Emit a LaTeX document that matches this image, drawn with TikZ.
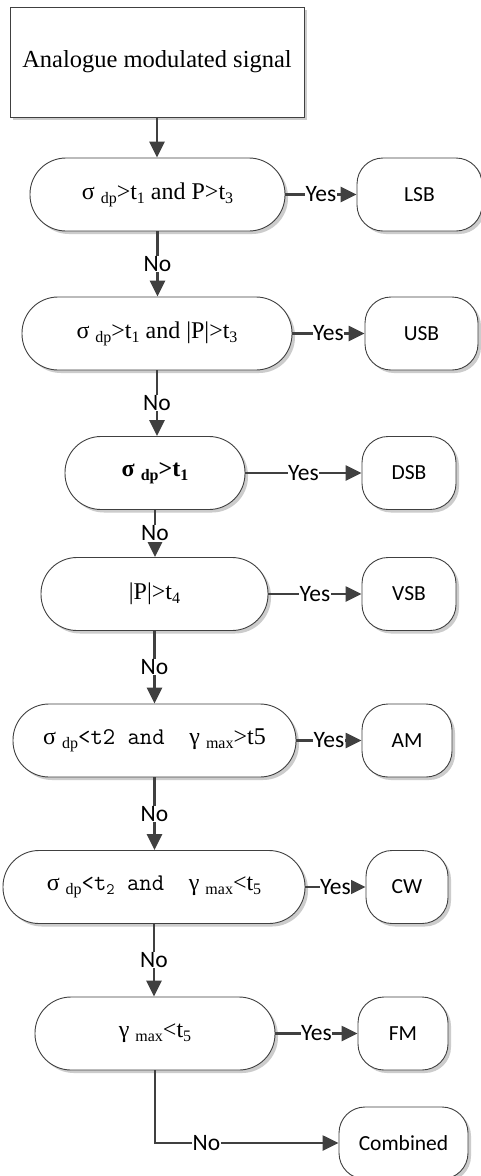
\documentclass[tikz,border=0pt]{standalone}
\usepackage{fontspec}
\setmainfont{Liberation Serif}
\newfontfamily\sansf{Carlito}
\usetikzlibrary{arrows.meta,shadows}
% lowered, smaller text used for indices such as dp, max, 1
\newcommand\lowsub[1]{\raisebox{-4pt}{\fontsize{16}{16}\selectfont #1}}
% light typewriter run inside the mixed conditions
\newcommand\twrun[1]{{\ttfamily\fontsize{24}{28}\selectfont #1}}

\begin{document}
\begin{tikzpicture}[x=1pt,y=-1pt,
  box/.style={draw=black!75, line width=0.9pt, fill=white, inner sep=0pt, align=center,
    drop shadow={shadow xshift=3pt, shadow yshift=-3pt, fill=black!20, opacity=1}},
  startbox/.style={box, font=\fontsize{24.5}{28}\selectfont},
  decide/.style={box, rounded corners=36pt, minimum height=73pt, font=\fontsize{24}{28}\selectfont},
  result/.style={box, rounded corners=26pt, minimum height=73pt, font=\sansf\fontsize{21.5}{25}\selectfont},
  flow/.style={draw=black!75, line width=2.5pt, -{Triangle[length=16pt,width=15pt]}},
  lab/.style={fill=white, inner sep=0.6pt, text=black, font=\sansf\fontsize{23.5}{27}\selectfont}
]
\useasboundingbox (0,0) rectangle (481,1176);
\clip (0,0) rectangle (481,1176);
\fill[white] (0,0) rectangle (481,1176);

% start block
\node[startbox, minimum width=294pt, minimum height=110pt] (start) at (157,62) {Analogue modulated signal};

% decision chain
\node[decide, minimum width=255pt] (d1) at (157.5,194.5)
  {σ \lowsub{dp}>t\lowsub{1} and P>t\lowsub{3}};
\node[decide, minimum width=270pt] (d2) at (157,333.5)
  {σ \lowsub{dp}>t\lowsub{1} and |P|>t\lowsub{3}};
\node[decide, minimum width=180pt, font=\bfseries\fontsize{24}{28}\selectfont] (d3) at (155,473)
  {σ \lowsub{dp}>t\lowsub{1}};
\node[decide, minimum width=227pt] (d4) at (154.5,594)
  {|P|>t\lowsub{4}};
\node[decide, minimum width=283pt] (d5) at (154.5,740.5)
  {σ \lowsub{dp}\twrun{<t2 and\ \ }γ \lowsub{max}>t5};
\node[decide, minimum width=302pt] (d6) at (154,887)
  {σ \lowsub{dp}\twrun{<t\lowsub{2} and\ \ }γ \lowsub{max}<t\lowsub{5}};
\node[decide, minimum width=240pt] (d7) at (155,1033.5)
  {γ \lowsub{max}<t\lowsub{5}};

% outcomes
\node[result, minimum width=125pt] (lsb) at (419.5,194.5) {LSB};
\node[result, minimum width=113pt] (usb) at (421.5,333.5) {USB};
\node[result, minimum width=94pt] (dsb) at (409,473) {DSB};
\node[result, minimum width=94pt] (vsb) at (409,594) {VSB};
\node[result, minimum width=90pt] (am) at (407,740.5) {AM};
\node[result, minimum width=82pt] (cw) at (407,887) {CW};
\node[result, minimum width=90pt] (fm) at (403,1033.5) {FM};
\node[result, minimum width=129pt, minimum height=72pt] (comb) at (403.5,1143) {Combined};

% vertical "No" branches
\draw[flow] (start.south) -- (start.south |- d1.north);
\draw[flow] (d1.south) -- (d1.south |- d2.north) node[lab,midway] {No};
\draw[flow] (d2.south) -- (d2.south |- d3.north) node[lab,midway] {No};
\draw[flow] (d3.south) -- (d3.south |- d4.north) node[lab,midway] {No};
\draw[flow] (d4.south) -- (d4.south |- d5.north) node[lab,midway] {No};
\draw[flow] (d5.south) -- (d5.south |- d6.north) node[lab,midway] {No};
\draw[flow] (d6.south) -- (d6.south |- d7.north) node[lab,midway] {No};
\draw[flow] (d7.south) |- (comb.west) node[lab,pos=0.64] {No};

% horizontal "Yes" branches
\draw[flow] (d1.east) -- (lsb.west) node[lab,midway] {Yes};
\draw[flow] (d2.east) -- (usb.west) node[lab,midway] {Yes};
\draw[flow] (d3.east) -- (dsb.west) node[lab,midway] {Yes};
\draw[flow] (d4.east) -- (vsb.west) node[lab,midway] {Yes};
\draw[flow] (d5.east) -- (am.west) node[lab,midway] {Yes};
\draw[flow] (d6.east) -- (cw.west) node[lab,midway] {Yes};
\draw[flow] (d7.east) -- (fm.west) node[lab,midway] {Yes};
\end{tikzpicture}
\end{document}
